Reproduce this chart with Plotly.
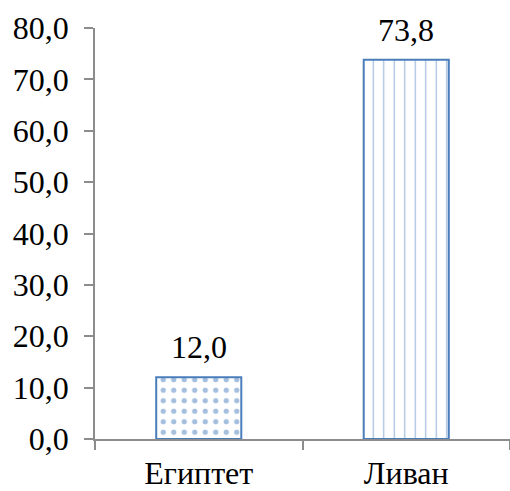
import plotly.graph_objects as go

countries = ["Египтет", "Ливан"]
values = [12.0, 73.8]
patterns = [".", "|"]
y_ticks = [0, 10, 20, 30, 40, 50, 60, 70, 80]

FONT = "Liberation Serif"
SIZE = 32
BLUE = "#4a7ebb"
AXIS = "#8c8c8c"

fig = go.Figure(
    go.Bar(
        x=countries,
        y=values,
        marker=dict(
            color="white",
            line=dict(color=BLUE, width=2),
            pattern=dict(shape=patterns, fgcolor=BLUE, bgcolor="white",
                         size=10.5, solidity=[0.2, 0.12]),
        ),
    )
)

# value labels above each bar
for c, v in zip(countries, values):
    fig.add_annotation(
        x=c, y=v, text=f"{v:.1f}".replace(".", ","),
        showarrow=False, yanchor="bottom", yshift=10,
        font=dict(family=FONT, size=SIZE, color="black"),
    )

fig.update_layout(
    width=510,
    height=491,
    margin=dict(l=95, r=0, t=28, b=52),
    paper_bgcolor="white",
    plot_bgcolor="white",
    separators=", ",
    bargap=0.59,
    showlegend=False,
    font=dict(family=FONT, size=SIZE, color="black"),
)

fig.update_yaxes(
    range=[0, 80],
    tickvals=y_ticks,
    tickformat=".1f",
    automargin=False,
    showgrid=False,
    zeroline=False,
    showline=True,
    linecolor=AXIS,
    linewidth=1.5,
    ticks="outside",
    ticklen=9,
    tickcolor=AXIS,
    tickwidth=1.5,
    ticklabelstandoff=9,
)

fig.update_xaxes(
    automargin=False,
    showgrid=False,
    showline=True,
    linecolor=AXIS,
    linewidth=1.5,
    ticks="outside",
    tickson="boundaries",
    ticklen=9,
    tickcolor=AXIS,
    tickwidth=1.5,
    ticklabelstandoff=5,
)

fig.write_html("out.html")
